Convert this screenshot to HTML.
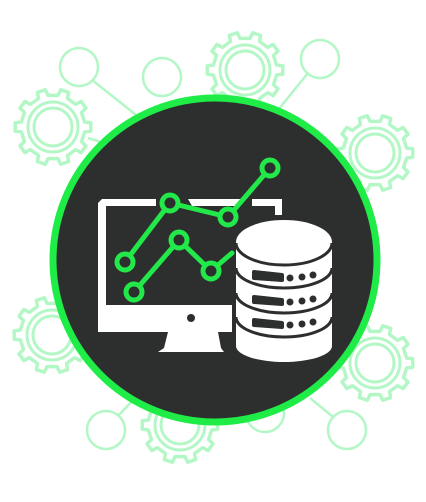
<!DOCTYPE html>
<html><head><style>html,body{margin:0;padding:0;background:#fff;width:426px;height:502px;overflow:hidden}</style></head>
<body>
<svg width="426" height="502" viewBox="0 0 426 502" xmlns="http://www.w3.org/2000/svg">
<defs>
<g id="gear">
<path id="gp" fill="none" stroke="#b4f7c6" stroke-width="3.5" stroke-linejoin="round" d=""/>
<circle r="25" fill="none" stroke="#b4f7c6" stroke-width="3"/>
<circle r="19" fill="none" stroke="#b4f7c6" stroke-width="3"/>
</g>
</defs>
<g stroke="#b4f7c6" stroke-width="2.5" fill="none">
<line x1="92" y1="80" x2="140" y2="118"/>
<line x1="308" y1="73" x2="278" y2="110"/>
<line x1="88" y1="138" x2="110" y2="145"/>
<line x1="118" y1="416" x2="135" y2="398"/>
<line x1="333" y1="417" x2="310" y2="398"/>
<circle cx="79" cy="67" r="19"/>
<circle cx="162" cy="77" r="19"/>
<circle cx="320" cy="59" r="19"/>
<circle cx="106" cy="430" r="19"/>
<circle cx="347" cy="430" r="19"/>
<circle cx="265" cy="413" r="19"/>
</g>
<use href="#gear" x="53" y="127"/>
<use href="#gear" x="245" y="70"/>
<use href="#gear" x="375" y="153"/>
<use href="#gear" x="52" y="335"/>
<use href="#gear" x="375" y="363"/>
<use href="#gear" x="180" y="425"/>
<circle cx="215" cy="260" r="162" fill="#2d2f2e" stroke="#1fec47" stroke-width="7"/>
<path d="M102 199 H156 V206 H106 V305 H232 V332 H98 V203 Z" fill="#fff"/>
<path d="M188 199 H240 V206 H192 Z" fill="#fff"/>
<path d="M252 199 H282 V215 H275 V206 H252 Z" fill="#fff"/>
<circle cx="191" cy="318" r="4" fill="#2d2f2e"/>
<path d="M168 332 H218 L221 348 L224 352 H158 L164 348 Z" fill="#fff"/>
<g stroke="#22e84a" stroke-width="5" fill="none" stroke-linecap="round">
<polyline points="125,262 170,203 228,217 270,168"/>
<polyline points="134,292 179,240 211,271 232,253"/>
</g>
<g stroke="#22e84a" stroke-width="5" fill="#2d2f2e">
<circle cx="125" cy="262" r="8"/><circle cx="170" cy="203" r="8"/><circle cx="228" cy="217" r="8"/><circle cx="270" cy="168" r="8"/>
<circle cx="134" cy="292" r="8"/><circle cx="179" cy="240" r="8"/><circle cx="211" cy="271" r="8"/>
</g>
<path d="M236 242 A48 22 0 0 1 332 242 V346 A48 16 0 0 1 236 346 Z" fill="#fff"/>
<g stroke="#2d2f2e" stroke-width="3" fill="none">
<path d="M236 243 A48 22 0 0 0 332 243"/>
<path d="M236 268 A48 20 0 0 0 332 268"/>
<path d="M236 293 A48 20 0 0 0 332 293"/>
<path d="M236 317 A48 20 0 0 0 332 317"/>
</g>
<g fill="#2d2f2e">
<path d="M254 272 L282 275 L282 280 L254 278 Z" stroke="#2d2f2e" stroke-width="4" stroke-linejoin="round"/>
<circle cx="290" cy="278" r="3.5"/><circle cx="302" cy="277" r="3.5"/><circle cx="313" cy="275" r="3.5"/>
<path d="M254 297 L282 300 L282 304 L254 302 Z" stroke="#2d2f2e" stroke-width="4" stroke-linejoin="round"/>
<circle cx="290" cy="302" r="3.5"/><circle cx="302" cy="301" r="3.5"/><circle cx="313" cy="299" r="3.5"/>
<path d="M254 320 L282 323 L282 327 L254 325 Z" stroke="#2d2f2e" stroke-width="4" stroke-linejoin="round"/>
<circle cx="290" cy="325" r="3.5"/><circle cx="302" cy="324" r="3.5"/><circle cx="313" cy="322" r="3.5"/>
</g>
</svg>
<script>
(function(){var n=10,ro=38,ri=32,d="";for(var i=0;i<n;i++){var a=i*2*Math.PI/n,w=Math.PI/n;var pts=[[ri,a-w*0.5],[ro,a-w*0.35],[ro,a+w*0.35],[ri,a+w*0.5],[ri,a+w*1.5]];pts.forEach(function(p,j){var x=(p[0]*Math.cos(p[1])).toFixed(2),y=(p[0]*Math.sin(p[1])).toFixed(2);d+=(i==0&&j==0?"M":"L")+x+" "+y+" ";});}d+="Z";document.getElementById("gp").setAttribute("d",d);})();
</script>
</body></html>
